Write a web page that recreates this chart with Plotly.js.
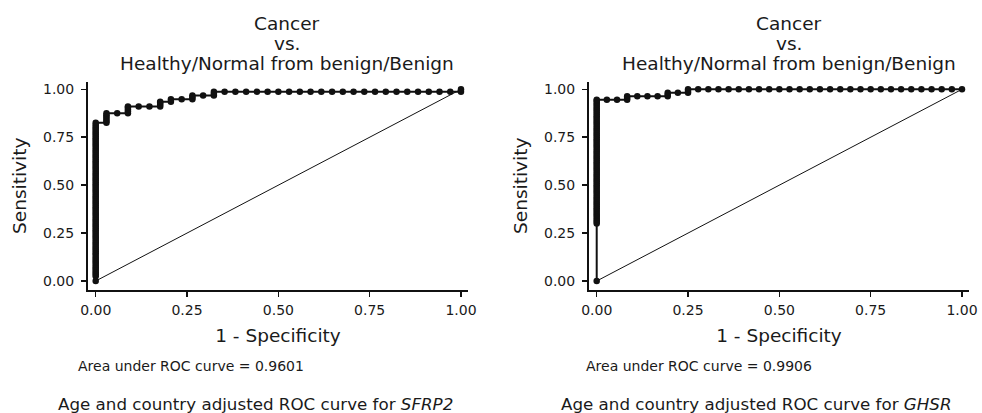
<!DOCTYPE html>
<html>
<head>
<meta charset="utf-8">
<script src="https://cdn.plot.ly/plotly-3.0.1.min.js"></script>
<style>html,body{margin:0;padding:0;background:#fff;}#chart{width:982px;height:413px;}</style>
</head>
<body>
<div id="chart"></div>
<script>
// ---- Data ----
const tickVals = [0, 0.25, 0.5, 0.75, 1];
const tickText = ["0.00", "0.25", "0.50", "0.75", "1.00"];

// SFRP2: 1 - specificity positions (one per negative case step)
const fprSFRP2 = [0, 0.0294, 0.0588, 0.0882, 0.1176, 0.1471, 0.1765, 0.2059, 0.2353, 0.2647,
  0.2941, 0.3235, 0.3529, 0.3824, 0.4118, 0.4412, 0.4706, 0.5, 0.5294, 0.5588, 0.5882,
  0.6176, 0.6471, 0.6765, 0.7059, 0.7353, 0.7647, 0.7941, 0.8235, 0.8529, 0.8824, 0.9118,
  0.9412, 0.9706, 1];
// SFRP2: sensitivity values reached at each 1 - specificity position
const tprSFRP2 = [
  [0, 0.025, 0.035, 0.045, 0.055, 0.065, 0.075, 0.085, 0.095, 0.105, 0.115, 0.125, 0.135, 0.145,
   0.155, 0.165, 0.175, 0.185, 0.195, 0.205, 0.215, 0.225, 0.235, 0.245, 0.255, 0.265, 0.275,
   0.285, 0.295, 0.305, 0.315, 0.325, 0.335, 0.345, 0.355, 0.365, 0.375, 0.385, 0.395, 0.405,
   0.415, 0.425, 0.435, 0.445, 0.455, 0.465, 0.475, 0.485, 0.495, 0.505, 0.515, 0.525, 0.535,
   0.545, 0.555, 0.565, 0.575, 0.585, 0.595, 0.605, 0.615, 0.625, 0.635, 0.645, 0.655, 0.665,
   0.675, 0.685, 0.695, 0.705, 0.715, 0.725, 0.735, 0.745, 0.755, 0.765, 0.775, 0.785, 0.795,
   0.805, 0.815, 0.825],
  [0.825, 0.835, 0.845, 0.855, 0.865, 0.875],
  [0.875],
  [0.875, 0.885, 0.895, 0.905, 0.91],
  [0.91],
  [0.91],
  [0.91, 0.92, 0.93, 0.935],
  [0.935, 0.948],
  [0.948],
  [0.948, 0.958, 0.967],
  [0.967],
  [0.967, 0.977, 0.987],
  [0.987], [0.987], [0.987], [0.987], [0.987], [0.987], [0.987], [0.987], [0.987], [0.987], [0.987],
  [0.987], [0.987], [0.987], [0.987], [0.987], [0.987], [0.987], [0.987], [0.987], [0.987], [0.987],
  [0.987, 1]
];

// GHSR
const fprGHSR = [0, 0.0278, 0.0556, 0.0833, 0.1111, 0.1389, 0.1667, 0.1944, 0.2222, 0.25,
  0.2778, 0.3056, 0.3333, 0.3611, 0.3889, 0.4167, 0.4444, 0.4722, 0.5, 0.5278, 0.5556,
  0.5833, 0.6111, 0.6389, 0.6667, 0.6944, 0.7222, 0.75, 0.7778, 0.8056, 0.8333, 0.8611,
  0.8889, 0.9167, 0.9444, 0.9722, 1];
const tprGHSR = [
  [0, 0.30, 0.31, 0.32, 0.33, 0.34, 0.35, 0.36, 0.37, 0.38, 0.39, 0.40, 0.41, 0.42, 0.43, 0.44,
   0.45, 0.46, 0.47, 0.48, 0.49, 0.50, 0.51, 0.52, 0.53, 0.54, 0.55, 0.56, 0.57, 0.58, 0.59,
   0.60, 0.61, 0.62, 0.63, 0.64, 0.65, 0.66, 0.67, 0.68, 0.69, 0.70, 0.71, 0.72, 0.73, 0.74,
   0.75, 0.76, 0.77, 0.78, 0.79, 0.80, 0.81, 0.82, 0.83, 0.84, 0.85, 0.86, 0.87, 0.88, 0.89,
   0.90, 0.91, 0.92, 0.93, 0.94, 0.946],
  [0.946],
  [0.946],
  [0.946, 0.955, 0.964],
  [0.964],
  [0.964],
  [0.964],
  [0.964, 0.973, 0.982],
  [0.982],
  [0.982, 0.991, 1],
  [1], [1], [1], [1], [1], [1], [1], [1], [1], [1], [1], [1], [1], [1],
  [1], [1], [1], [1], [1], [1], [1], [1], [1], [1], [1], [1], [1]
];

const diagX = [0, 1];
const diagY = [0, 1];

const panelTitleLines = ["Cancer", "vs.", "Healthy/Normal from benign/Benign"];
const aucText = ["Area under ROC curve = 0.9601", "Area under ROC curve = 0.9906"];
const geneNames = ["SFRP2", "GHSR"];
const xTitle = "1 - Specificity";
const yTitle = "Sensitivity";

// ---- Build traces ----
function flatten(fpr, tprCols) {
  const xs = [], ys = [];
  tprCols.forEach((col, i) => col.forEach(v => { xs.push(fpr[i]); ys.push(v); }));
  return {xs, ys};
}
const a = flatten(fprSFRP2, tprSFRP2);
const b = flatten(fprGHSR, tprGHSR);

const curveStyle = {
  mode: 'lines+markers',
  line: {color: '#111', width: 2},
  marker: {color: '#111', size: 6.5, symbol: 'circle'},
  hoverinfo: 'skip', showlegend: false, cliponaxis: false
};
const diagStyle = {mode: 'lines', line: {color: '#111', width: 1}, hoverinfo: 'skip', showlegend: false};

const data = [
  Object.assign({type: 'scatter', x: diagX, y: diagY, xaxis: 'x', yaxis: 'y'}, diagStyle),
  Object.assign({type: 'scatter', x: a.xs, y: a.ys, xaxis: 'x', yaxis: 'y'}, curveStyle),
  Object.assign({type: 'scatter', x: diagX, y: diagY, xaxis: 'x2', yaxis: 'y2'}, diagStyle),
  Object.assign({type: 'scatter', x: b.xs, y: b.ys, xaxis: 'x2', yaxis: 'y2'}, curveStyle)
];

const FONT = 'DejaVu Sans, Liberation Sans, Arial, sans-serif';
function xAxis(domain, anchor) {
  return {
    domain: domain, anchor: anchor, range: [-0.0211, 1.0192],
    showline: true, linecolor: '#111', linewidth: 2,
    ticks: 'outside', ticklen: 5, tickwidth: 1.5, tickcolor: '#111',
    tickvals: tickVals, ticktext: tickText,
    tickfont: {family: FONT, size: 14, color: '#1a1a1a'}, ticklabelstandoff: 2,
    showgrid: false, zeroline: false, fixedrange: true,
    title: {text: xTitle, font: {family: FONT, size: 18.5, color: '#1a1a1a'}, standoff: 12}
  };
}
function yAxis(domain, anchor) {
  return {
    domain: domain, anchor: anchor, range: [-0.0443, 1.038],
    showline: true, linecolor: '#111', linewidth: 2,
    ticks: 'outside', ticklen: 5, tickwidth: 1.5, tickcolor: '#111',
    tickvals: tickVals, ticktext: tickText,
    tickfont: {family: FONT, size: 14, color: '#1a1a1a'}, ticklabelstandoff: 4,
    showgrid: false, zeroline: false, fixedrange: true,
    title: {text: yTitle, font: {family: FONT, size: 18.5, color: '#1a1a1a'}, standoff: 12}
  };
}

const W = 982, H = 413;
const yDom = [1 - 289.5 / H, 1 - 82 / H];
const annotations = [];
const panelCenters = [287 / W, 788.5 / W];
const lineY = [23.8, 43.8, 63.8];
panelCenters.forEach((cx, p) => {
  panelTitleLines.forEach((t, i) => {
    annotations.push({xref: 'paper', yref: 'paper', x: cx, y: 1 - lineY[i] / H,
      xanchor: 'center', yanchor: 'middle', showarrow: false, text: t,
      font: {family: FONT, size: 18.5, color: '#1a1a1a'}});
  });
});
[76 / W, 583.7 / W].forEach((lx, p) => {
  annotations.push({xref: 'paper', yref: 'paper', x: lx, y: 1 - 365.5 / H,
    xanchor: 'left', yanchor: 'middle', showarrow: false, text: aucText[p],
    font: {family: FONT, size: 14, color: '#1a1a1a'}});
});
[255 / W, 756 / W].forEach((cx, p) => {
  annotations.push({xref: 'paper', yref: 'paper', x: cx, y: 1 - 404 / H,
    xanchor: 'center', yanchor: 'middle', showarrow: false,
    text: 'Age and country adjusted ROC curve for <i>' + geneNames[p] + '</i>',
    font: {family: FONT, size: 16.7, color: '#1a1a1a'}});
});

const layout = {
  width: W, height: H,
  margin: {l: 0, r: 0, t: 0, b: 0, pad: 0},
  paper_bgcolor: '#fff', plot_bgcolor: '#fff',
  font: {family: FONT, color: '#1a1a1a'},
  showlegend: false,
  xaxis: xAxis([88 / W, 468 / W], 'y'),
  yaxis: yAxis(yDom, 'x'),
  xaxis2: xAxis([589 / W, 969 / W], 'y2'),
  yaxis2: yAxis(yDom, 'x2'),
  annotations: annotations
};

Plotly.newPlot('chart', data, layout, {displayModeBar: false, staticPlot: true});
</script>
</body>
</html>
